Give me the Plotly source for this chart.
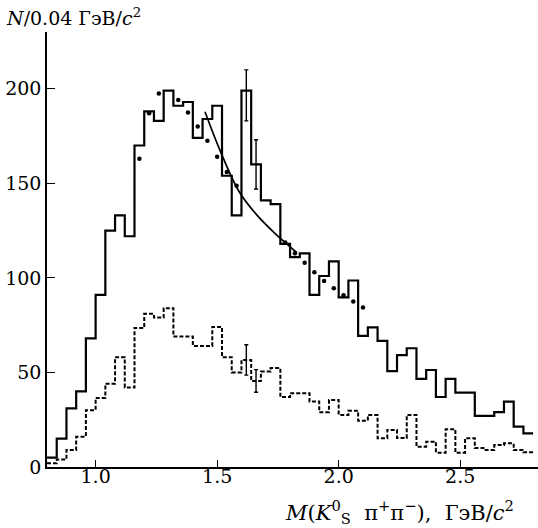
import plotly.graph_objects as go

# ---- data ----
bin_start = 0.80
bin_width = 0.04

solid_counts = [5, 15, 31, 40, 68, 91, 125, 133, 122, 170,
                188, 183, 199, 191, 193, 174, 184, 191, 154, 133,
                199, 160, 141, 139, 118, 111, 113, 91, 101, 108.7,
                89.7, 98.6, 69.3, 73.8, 66.7, 50.7, 59.2, 62.8, 46.6, 51.3,
                37, 46.6, 39.3, 39.3, 27, 27, 29, 34.6, 21.3, 17.8]

dashed_counts = [2, 4, 9, 16, 30, 36.5, 44, 58, 42, 73.5,
                 81, 79, 84, 69, 69, 64, 64, 74, 58, 50,
                 56.6, 45.5, 50.5, 52.4, 37, 39, 39, 34.6, 29, 35.4,
                 27.5, 29.8, 24.5, 27.5, 15.2, 19.6, 15.3, 27.5, 10.7, 13.4,
                 7.6, 20, 7.6, 15.2, 10, 9, 11.6, 12.5, 9, 7.8]

dot_first_bin = 9
dot_values = [163, 187, 197.5, None, 194, 187.5, 180, 172.5, 164, 156,
              148.7, None, None, None, None, 118.7, 113, 108, 103, 98.4,
              94.5, 90.8, 87.5, 84.3]

fit_mass = [1.450, 1.512, 1.590, 1.663, 1.742, 1.828]
fit_values = [187.8, 167.3, 145.7, 133.3, 123.0, 113.4]

err_bins = [20, 21]
solid_err_plus = [11, 13]
solid_err_minus = [16, 13]
dashed_err_plus = [8, 6]
dashed_err_minus = [8, 6]

x_ticks = [1.0, 1.5, 2.0, 2.5]
x_tick_labels = ["1.0", "1.5", "2.0", "2.5"]
y_ticks = [0, 50, 100, 150, 200]
y_tick_labels = ["0", "50", "100", "150", "200"]

# ---- derived ----
n = len(solid_counts)
edges = [bin_start + bin_width * i for i in range(n + 1)]
centers = [bin_start + bin_width * (i + 0.5) for i in range(n)]

FONT = "DejaVu Serif"
fig = go.Figure()

fig.add_trace(go.Scatter(
    x=edges, y=dashed_counts + [dashed_counts[-1]], mode="lines",
    line=dict(shape="hv", color="black", width=2, dash="4px,2px"),
    showlegend=False))

fig.add_trace(go.Scatter(
    x=edges, y=solid_counts + [solid_counts[-1]], mode="lines",
    line=dict(shape="hv", color="black", width=2.2), showlegend=False))

dot_x = [centers[dot_first_bin + i] for i in range(len(dot_values))]
fig.add_trace(go.Scatter(
    x=dot_x, y=dot_values, mode="markers",
    marker=dict(size=4.5, color="black"), showlegend=False))

fig.add_trace(go.Scatter(
    x=fit_mass, y=fit_values, mode="lines",
    line=dict(shape="spline", color="black", width=1.7), showlegend=False))

err_x = [centers[b] for b in err_bins]
fig.add_trace(go.Scatter(
    x=err_x, y=[solid_counts[b] for b in err_bins], mode="markers",
    marker=dict(size=1, color="rgba(0,0,0,0)"),
    error_y=dict(type="data", symmetric=False, array=solid_err_plus,
                 arrayminus=solid_err_minus, color="black", thickness=1.4, width=2),
    showlegend=False))
fig.add_trace(go.Scatter(
    x=err_x, y=[dashed_counts[b] for b in err_bins], mode="markers",
    marker=dict(size=1, color="rgba(0,0,0,0)"),
    error_y=dict(type="data", symmetric=False, array=dashed_err_plus,
                 arrayminus=dashed_err_minus, color="black", thickness=1.4, width=2),
    showlegend=False))

W, H = 538, 528
ml, mr, mt, mb = 47, 0, 32, 61
pw, ph = W - ml - mr, H - mt - mb

fig.update_layout(
    width=W, height=H,
    margin=dict(l=ml, r=mr, t=mt, b=mb, pad=0),
    paper_bgcolor="white", plot_bgcolor="white",
    font=dict(family=FONT, size=19, color="black"),
    xaxis=dict(range=[0.80, 2.82], showgrid=False, zeroline=False,
               showline=True, linecolor="black", linewidth=1.6,
               ticks="inside", ticklen=7, tickwidth=1.4, tickcolor="black",
               tickvals=x_ticks, ticktext=x_tick_labels,
               ticklabelstandoff=-9,
               tickfont=dict(family=FONT, size=19)),
    yaxis=dict(range=[0, 230], showgrid=False, zeroline=False,
               showline=True, linecolor="black", linewidth=1.6,
               ticks="inside", ticklen=8, tickwidth=1.4, tickcolor="black",
               tickvals=y_ticks, ticktext=y_tick_labels,
               tickfont=dict(family=FONT, size=19)),
    annotations=[
        dict(text="<i>N</i>/0.04 ГэВ/<i>c</i><sup>2</sup>",
             xref="paper", yref="paper",
             x=(4 - ml) / pw, y=(H - mb - 17) / ph,
             xanchor="left", yanchor="middle", showarrow=False,
             font=dict(family=FONT, size=19)),
        dict(text="<i>M</i>(<i>K</i><sup>0</sup><sub>S</sub>  π<sup>+</sup>π<sup>−</sup>),  ГэВ/<i>c</i><sup>2</sup>",
             xref="paper", yref="paper",
             x=(516 - ml) / pw, y=(H - mb - 512) / ph,
             xanchor="right", yanchor="middle", showarrow=False,
             font=dict(family=FONT, size=21)),
    ],
)

fig.write_html("out.html")
